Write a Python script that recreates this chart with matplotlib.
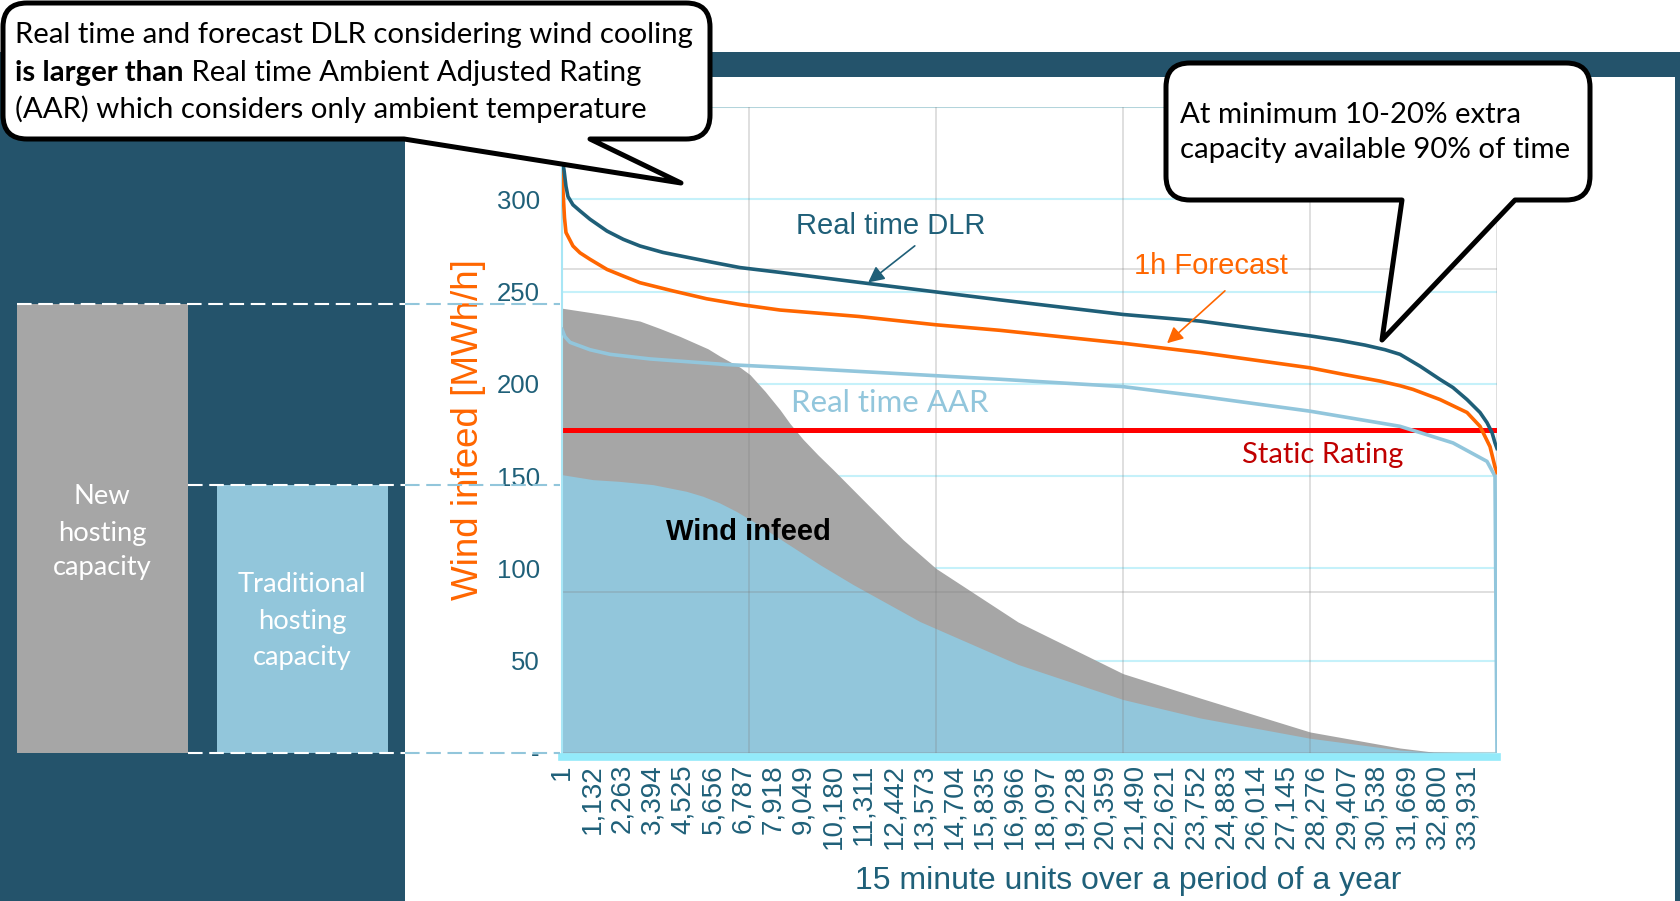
import numpy as np
import matplotlib.pyplot as plt
import matplotlib.transforms as mtransforms
from matplotlib.patches import Rectangle, PathPatch
from matplotlib.path import Path

plt.rcParams['font.family'] = ['Liberation Sans', 'DejaVu Sans']

# duration curves: x = 15 minute unit (sorted), y = MWh/h
dlr_x = [1, 75, 150, 225, 412, 675, 1049, 1686, 2298, 2923, 3786, 5659, 6671, 8170, 11130,
         14016, 16414, 21024, 23910, 28032, 29156, 30093, 30843, 31405, 32154, 32904, 33391,
         33916, 34403, 34665, 34853, 34965, 35040]
dlr_y = [322, 316, 307, 301.5, 297, 293.7, 289.2, 282.8, 278.3, 274.7, 271.2, 265.8, 263, 260.4, 255,
         249.8, 245.5, 237.6, 234, 226, 223.5, 221, 218.5, 216, 209.6, 202.4, 198,
         191.5, 184.5, 179, 173.6, 168, 165]

fc_x = [1, 37, 56, 94, 150, 412, 675, 1049, 1686, 2298, 2923, 4173, 5421, 6671, 8170, 11130,
        14016, 16414, 21024, 23910, 28032, 29343, 30655, 31405, 31892, 32904, 33916, 34403,
        34778, 34965, 35040]
fc_y = [320, 305, 300, 290, 282, 274.7, 271, 267.5, 262, 258.4, 254.8, 250.3, 246.1, 243, 240, 236.5,
        232, 229, 222, 217, 208.7, 205, 201.5, 199, 197, 191.5, 184.5, 177,
        166, 155, 152]

aar_x = [1, 112, 300, 1049, 1799, 3298, 6109, 8919, 12667, 16414, 21024, 23910, 28032,
         31405, 33391, 34665, 34965, 35040]
aar_y = [229.5, 225.5, 222.5, 218.5, 216, 213.5, 210.5, 208.5, 205.5, 202.5, 198.5, 193.3, 185.2,
         177, 168, 158, 150, 0]

# wind infeed areas
new_x = [1, 1049, 1799, 2923, 3673, 4422, 5471, 5921, 6671, 7046, 7608, 8170, 8544, 9032,
         9594, 10156, 11468, 12780, 14016, 17089, 21024, 23910, 28032, 31405, 32642, 35040]
new_y = [241, 238.7, 237, 234, 230, 225.7, 219, 215, 209, 205, 196, 186, 178.5, 170,
         161.5, 153.6, 134.5, 115.6, 100, 71, 43, 29.8, 11.4, 2.7, 0.5, 0]

trad_x = [1, 1162, 2136, 3410, 4659, 5281, 5909, 6534, 7158, 8407, 9669, 10918, 12168,
          13417, 17089, 21024, 23910, 28032, 31405, 32642, 35040]
trad_y = [150.8, 148.1, 147.2, 145.4, 141.8, 139.1, 135.5, 130.9, 125.5, 113.8, 102, 91.2, 81.2,
          71.2, 48, 29, 19, 8, 1.6, 0.4, 0]

static_rating = 175
new_capacity = 243
traditional_capacity = 145

y_ticks = [0, 50, 100, 150, 200, 250, 300, 350]
y_tick_labels = ['-', '50', '100', '150', '200', '250', '300', '']
x_ticks = [1, 1132, 2263, 3394, 4525, 5656, 6787, 7918, 9049, 10180, 11311, 12442, 13573,
           14704, 15835, 16966, 18097, 19228, 20359, 21490, 22621, 23752, 24883, 26014,
           27145, 28276, 29407, 30538, 31669, 32800, 33931]

DARK = '#24536B'
TXT = '#1F6079'
DLR_C = '#1F5F78'
ORANGE = '#FF6600'
AAR_C = '#92C6DC'
GRAY = '#A6A6A6'
BLUE = '#92C6DB'
CYAN_GRID = '#C5F1FA'

W, H = 1681, 901
fig = plt.figure(figsize=(W / 100, H / 100), dpi=100)

# background panels (pixel coordinates)
bg = fig.add_axes([0, 0, 1, 1], zorder=0)
bg.set_xlim(0, W)
bg.set_ylim(H, 0)
bg.axis('off')
for x, y, w, h in [(0, 52, 405, H - 52), (0, 52, W, 25), (1675, 52, 6, H - 52)]:
    bg.add_patch(Rectangle((x, y), w, h, color=DARK, lw=0))

# main chart
ax = fig.add_axes([562 / W, (H - 753) / H, 935 / W, 646 / H], zorder=1)
ax.patch.set_alpha(0)
for s in ['top', 'right']:
    ax.spines[s].set_visible(False)
ax.spines['left'].set_color('#A8E6F5')
ax.spines['left'].set_linewidth(1.5)
ax.spines['bottom'].set_color('#93EAFA')
ax.spines['bottom'].set_linewidth(5.5)
ax.spines['bottom'].set_position(('outward', 3))
ax.set_xlim(1, 35040)
ax.set_ylim(0, 350)

ax.fill_between(new_x, new_y, color=GRAY, lw=0, zorder=1)
ax.fill_between(trad_x, trad_y, color=BLUE, lw=0, zorder=1.1)

# secondary (gray) grid
for gx in np.linspace(0, 35040, 6):
    ax.axvline(gx, color='#808080', alpha=0.3, lw=1.2, zorder=1.5)
for gy in np.linspace(0, 350, 5):
    ax.axhline(gy, color='#808080', alpha=0.3, lw=1.2, zorder=1.5)

ax.axhline(static_rating, color='#FF0000', lw=3.6, zorder=2)
ax.plot(aar_x, aar_y, color=AAR_C, lw=2.6, zorder=3)
ax.plot(fc_x, fc_y, color=ORANGE, lw=2.6, zorder=3)
ax.plot(dlr_x, dlr_y, color=DLR_C, lw=2.6, zorder=3)

ax.set_yticks(y_ticks)
ax.set_yticklabels(y_tick_labels)
ax.set_xticks(x_ticks)
ax.set_xticklabels([f'{t:,}' for t in x_ticks])
ax.tick_params(length=0, labelcolor=TXT)
ax.tick_params(axis='y', pad=16, labelsize=18.5)
ax.tick_params(axis='x', pad=5, labelsize=20, labelrotation=90)
ax.grid(axis='y', color=CYAN_GRID, lw=1.5)
ax.set_axisbelow(True)

ax.set_ylabel('Wind infeed [MWh/h]', color=ORANGE, fontsize=26.5, va='center')
ax.yaxis.set_label_coords(-0.1005, 0.5)
ax.set_xlabel('15 minute units over a period of a year', color=TXT, fontsize=23, va='center')
ax.xaxis.set_label_coords(0.6053, -0.198)

ax.text(12330, 285.5, 'Real time DLR', color=DLR_C, fontsize=21, ha='center', va='center')
ax.annotate('', xy=(11393, 254), xytext=(13304, 275.7),
            arrowprops=dict(arrowstyle='-|>', color=DLR_C, lw=1.2, mutation_scale=24))
ax.text(24322, 263.8, '1h Forecast', color=ORANGE, fontsize=21, ha='center', va='center')
ax.annotate('', xy=(22598, 221), xytext=(24921, 251.4),
            arrowprops=dict(arrowstyle='-|>', color=ORANGE, lw=1.2, mutation_scale=24))
ax.text(12290, 189.6, 'Real time AAR', color=AAR_C, family='Lato', fontsize=22.5,
        ha='center', va='center')
ax.text(28519, 161.4, 'Static Rating', color='#C00000', family='Lato', fontsize=21,
        ha='center', va='center')
ax.text(6971, 119.7, 'Wind infeed', color='black', weight='bold', fontsize=21,
        ha='center', va='center')

# overlay: hosting capacity boxes and callouts
ov = fig.add_axes([0, 0, 1, 1], zorder=2)
ov.set_xlim(0, W)
ov.set_ylim(H, 0)
ov.axis('off')

tr = mtransforms.blended_transform_factory(ov.transData, ax.transData)
ov.add_patch(Rectangle((17, 0), 171, new_capacity, transform=tr, color=GRAY, lw=0))
ov.add_patch(Rectangle((217, 0), 171, traditional_capacity, transform=tr, color=BLUE, lw=0))
for y, xa in [(new_capacity, 17), (traditional_capacity, 188), (0, 188)]:
    ov.plot([xa, 405], [y, y], transform=tr, color='white', ls=(0, (7, 3.2)), lw=1.5)
    ov.plot([405, 560], [y, y], transform=tr, color=BLUE, ls=(0, (7, 3.2)), lw=1.5)

BOX_FS = 19.7
for txt, yy in [('New', 497), ('hosting', 533), ('capacity', 568)]:
    ov.text(102, yy, txt, color='white', family='Lato', fontsize=BOX_FS, ha='center', va='center')
for txt, yy in [('Traditional', 585), ('hosting', 621), ('capacity', 657)]:
    ov.text(302, yy, txt, color='white', family='Lato', fontsize=BOX_FS, ha='center', va='center')


def callout(x0, y0, x1, y1, tail_a, tail_b, tip, r=24):
    verts = [(x0 + r, y0), (x1 - r, y0), (x1, y0), (x1, y0 + r),
             (x1, y1 - r), (x1, y1), (x1 - r, y1),
             (tail_b, y1), tip, (tail_a, y1),
             (x0 + r, y1), (x0, y1), (x0, y1 - r),
             (x0, y0 + r), (x0, y0), (x0 + r, y0), (x0 + r, y0)]
    codes = [Path.MOVETO, Path.LINETO, Path.CURVE3, Path.CURVE3,
             Path.LINETO, Path.CURVE3, Path.CURVE3,
             Path.LINETO, Path.LINETO, Path.LINETO,
             Path.LINETO, Path.CURVE3, Path.CURVE3,
             Path.LINETO, Path.CURVE3, Path.CURVE3, Path.CLOSEPOLY]
    ov.add_patch(PathPatch(Path(verts, codes), facecolor='white', edgecolor='black',
                           lw=3.6, joinstyle='round'))


FS = 21.2
callout(3, 3, 710, 139, 404, 590, (681, 183))
ov.text(15, 35, 'Real time and forecast DLR considering wind cooling',
        family='Lato', fontsize=FS, va='center')
tb = ov.text(15, 73, 'is larger than', family='Lato', weight='bold', fontsize=FS, va='center')
ov.annotate(' Real time Ambient Adjusted Rating', xy=(1, 73), xycoords=(tb, 'data'),
            family='Lato', fontsize=FS, va='center')
ov.text(15, 109, '(AAR) which considers only ambient temperature',
        family='Lato', fontsize=FS, va='center')

callout(1166, 63, 1590, 200, 1402, 1515, (1382, 340))
ov.text(1180, 115, 'At minimum 10-20% extra', family='Lato', fontsize=FS, va='center')
ov.text(1180, 150, 'capacity available 90% of time', family='Lato', fontsize=FS, va='center')

fig.savefig('out.png', dpi=100)
